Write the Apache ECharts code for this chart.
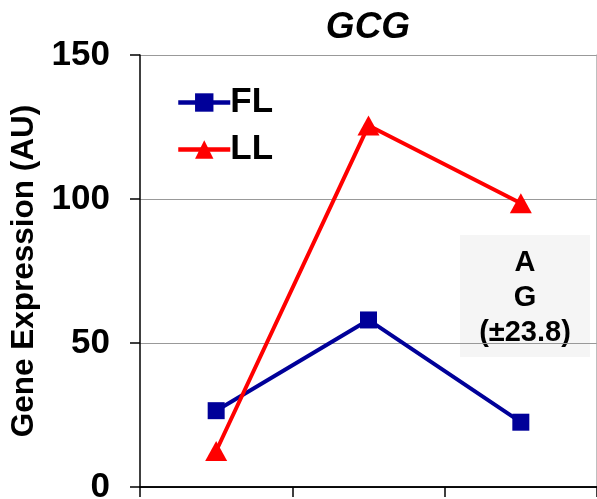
<!DOCTYPE html>
<html>
<head>
<meta charset="utf-8">
<script src="https://cdn.jsdelivr.net/npm/echarts@6/dist/echarts.min.js"></script>
<style>
  html, body { margin: 0; padding: 0; background: #fff; }
  #chart { width: 597px; height: 499px; }
</style>
</head>
<body>
<div id="chart"></div>
<script>
  // data
  var categories = ['1', '2', '3'];
  var flValues = [26.5, 58, 22.5];
  var llValues = [12.5, 125.5, 98.5];
  var yTicks = [0, 50, 100, 150];
  var noteLines = ['A', 'G', '(±23.8)'];

  var font = 'Liberation Sans, Arial, sans-serif';
  var chart = echarts.init(document.getElementById('chart'));

  var option = {
    backgroundColor: '#fff',
    animation: false,
    title: {
      text: 'GCG',
      left: 363,
      textAlign: 'center',
      top: 4,
      textStyle: {fontFamily: font, fontSize: 37, fontWeight: 'bold', fontStyle: 'italic', color: '#000'}
    },
    legend: {
      orient: 'vertical',
      left: 171,
      top: 80,
      itemWidth: 52,
      itemHeight: 23,
      itemGap: 12,
      textStyle: {fontFamily: font, fontSize: 35, fontWeight: 'bold', color: '#000', padding: [0, 0, 0, -5]},
      data: [
        {name: 'FL', lineStyle: {width: 4.5}},
        {name: 'LL', lineStyle: {width: 4.5}}
      ]
    },
    // the "0" label hangs below the canvas, keep the grid where it is
    grid: {left: 140, right: 0, top: 55, bottom: 12, outerBoundsMode: 'none', containLabel: false},
    xAxis: [{
      type: 'category',
      data: categories,
      boundaryGap: true,
      axisLine: {lineStyle: {color: '#000', width: 1.5}},
      axisTick: {show: true, length: 10, lineStyle: {color: '#000', width: 1.5}},
      axisLabel: {show: false}
    }, {
      type: 'category',
      position: 'top',
      data: categories,
      axisLine: {lineStyle: {color: '#000', width: 1.5}},
      axisTick: {show: false},
      axisLabel: {show: false}
    }],
    yAxis: [{
      type: 'value',
      min: yTicks[0],
      max: yTicks[yTicks.length - 1],
      interval: 50,
      name: 'Gene Expression (AU)',
      nameLocation: 'middle',
      nameGap: 97,
      nameTextStyle: {fontFamily: font, fontSize: 31.5, fontWeight: 'bold', color: '#000'},
      axisLine: {show: true, lineStyle: {color: '#000', width: 1.5}},
      axisTick: {show: true, length: 10, lineStyle: {color: '#000', width: 1.5}},
      axisLabel: {fontFamily: font, fontSize: 35, fontWeight: 'bold', color: '#000', margin: 30},
      splitLine: {show: true, lineStyle: {color: '#999', width: 1.2}}
    }, {
      type: 'value',
      position: 'right',
      min: yTicks[0],
      max: yTicks[yTicks.length - 1],
      interval: 50,
      axisLine: {show: true, lineStyle: {color: '#aaa', width: 1.5}},
      axisTick: {show: false},
      axisLabel: {show: false},
      splitLine: {show: false}
    }],
    graphic: [{
      type: 'group',
      left: 460,
      top: 235,
      children: [{
        type: 'rect',
        shape: {x: 0, y: 0, width: 130, height: 122},
        style: {fill: '#f5f5f5'}
      }, {
        type: 'text',
        x: 65,
        y: 10,
        style: {
          text: noteLines.join('\n'),
          align: 'center',
          fontFamily: font,
          fontSize: 29,
          fontWeight: 'bold',
          lineHeight: 35,
          fill: '#000'
        }
      }]
    }],
    series: [{
      name: 'FL',
      type: 'line',
      data: flValues,
      symbol: 'rect',
      symbolSize: 17,
      color: '#000099',
      lineStyle: {width: 4, color: '#000099'},
      itemStyle: {color: '#000099'},
      z: 3
    }, {
      name: 'LL',
      type: 'line',
      data: llValues,
      symbol: 'triangle',
      symbolSize: [22, 20],
      color: '#ff0000',
      lineStyle: {width: 4, color: '#ff0000'},
      itemStyle: {color: '#ff0000'},
      z: 4
    }]
  };

  chart.setOption(option);
</script>
</body>
</html>
